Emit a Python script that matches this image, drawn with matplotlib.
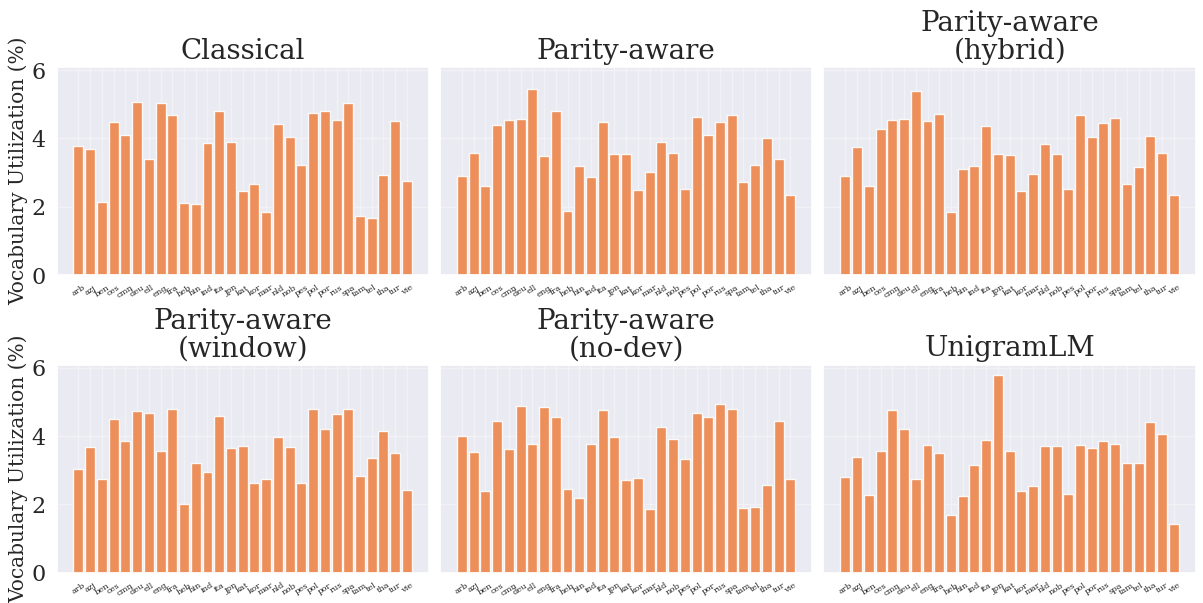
import numpy as np
import matplotlib
matplotlib.use("Agg")
import matplotlib.pyplot as plt
import seaborn as sns

# Languages on the x axis
langs = ["arb", "azj", "ben", "ces", "cmn", "deu", "ell", "eng", "fra", "heb",
         "hin", "ind", "ita", "jpn", "kat", "kor", "mar", "nld", "nob", "pes",
         "pol", "por", "rus", "spa", "tam", "tel", "tha", "tur", "vie"]

# Vocabulary utilization (%) per tokenizer
classical = [3.78, 3.69, 2.15, 4.47, 4.11, 5.06, 3.40, 5.03, 4.67, 2.12,
             2.09, 3.87, 4.79, 3.90, 2.45, 2.68, 1.85, 4.41, 4.05, 3.22,
             4.73, 4.79, 4.55, 5.03, 1.73, 1.67, 2.92, 4.52, 2.74]
parity = [2.89, 3.57, 2.62, 4.38, 4.55, 4.58, 5.45, 3.49, 4.79, 1.88,
          3.19, 2.86, 4.47, 3.54, 3.54, 2.48, 3.01, 3.90, 3.57, 2.53,
          4.64, 4.11, 4.47, 4.67, 2.71, 3.22, 4.02, 3.40, 2.33]
parity_hybrid = [2.89, 3.75, 2.62, 4.26, 4.55, 4.58, 5.39, 4.50, 4.70, 1.85,
                 3.10, 3.19, 4.35, 3.54, 3.51, 2.45, 2.95, 3.84, 3.54, 2.53,
                 4.67, 4.05, 4.44, 4.61, 2.68, 3.16, 4.08, 3.57, 2.33]
parity_window = [3.04, 3.69, 2.75, 4.51, 3.86, 4.72, 4.69, 3.57, 4.80, 2.01,
                 3.22, 2.95, 4.60, 3.66, 3.72, 2.63, 2.75, 3.98, 3.69, 2.63,
                 4.80, 4.22, 4.66, 4.80, 2.83, 3.36, 4.16, 3.51, 2.42]
parity_nodev = [4.01, 3.54, 2.39, 4.45, 3.63, 4.89, 3.77, 4.86, 4.57, 2.45,
                2.19, 3.77, 4.75, 3.98, 2.72, 2.77, 1.86, 4.27, 3.92, 3.33,
                4.69, 4.57, 4.95, 4.80, 1.89, 1.92, 2.57, 4.45, 2.75]
unigram = [2.80, 3.39, 2.27, 3.57, 4.77, 4.22, 2.75, 3.75, 3.51, 1.69,
           2.25, 3.16, 3.89, 5.80, 3.57, 2.39, 2.54, 3.72, 3.72, 2.30,
           3.75, 3.66, 3.86, 3.77, 3.22, 3.22, 4.42, 4.07, 1.42]

titles = ["Classical", "Parity-aware", "Parity-aware\n(hybrid)",
          "Parity-aware\n(window)", "Parity-aware\n(no-dev)", "UnigramLM"]
series = [classical, parity, parity_hybrid, parity_window, parity_nodev, unigram]

sns.set_theme(style="darkgrid")
plt.rcParams["font.family"] = ["DejaVu Serif"]

fig, axes = plt.subplots(2, 3, figsize=(12.03, 6.03), dpi=100, sharey=True)
fig.subplots_adjust(left=0.047, right=0.994, top=0.889, bottom=0.05,
                    wspace=0.03, hspace=0.43)

x = np.arange(len(langs))
for ax, title, vals in zip(axes.flat, titles, series):
    ax.bar(x, vals, width=0.85, color="#EE854A", alpha=0.9)
    ax.set_title(title, fontsize=20, linespacing=1.0)
    ax.set_xticks(x)
    ax.set_xticklabels(langs, rotation=32, fontsize=6)
    ax.tick_params(axis="x", pad=0)
    ax.tick_params(axis="y", labelsize=16, pad=2)
    ax.set_yticks([0, 2, 4, 6])
    ax.grid(True, alpha=0.35)

for ax in axes[:, 0]:
    ax.set_ylabel("Vocabulary Utilization (%)", fontsize=14.5, labelpad=2)

fig.savefig("out.png", dpi=100)
